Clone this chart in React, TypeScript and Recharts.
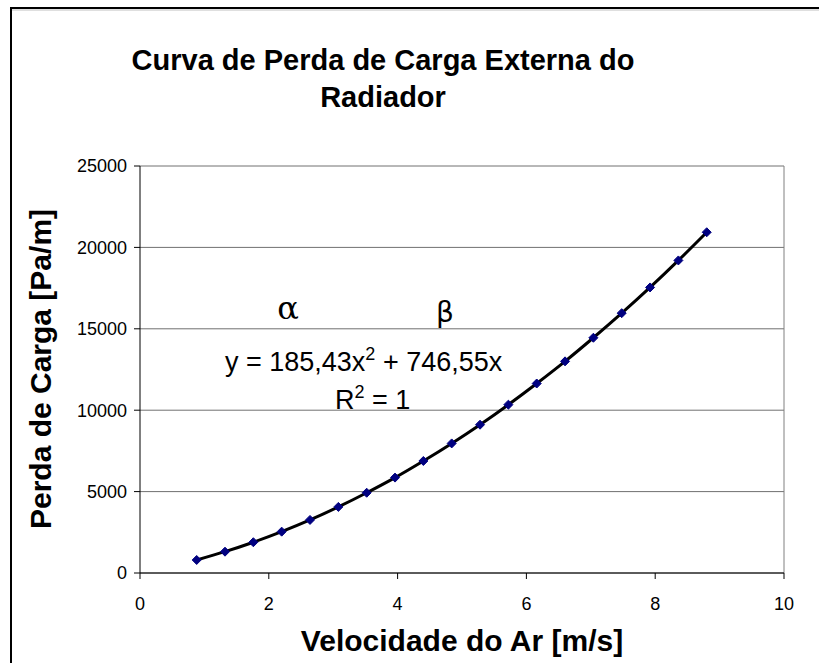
import { ComposedChart, Line, XAxis, YAxis, CartesianGrid, ReferenceLine } from "recharts";

// Velocidade do ar [m/s] e perda de carga [Pa/m]
const velocidade = [
  0.88, 1.32, 1.76, 2.2, 2.64, 3.08, 3.52, 3.96, 4.4, 4.84,
  5.28, 5.72, 6.16, 6.6, 7.04, 7.48, 7.92, 8.36, 8.8,
];
const perdaCarga = [
  800, 1310, 1890, 2540, 3260, 4060, 4930, 5860, 6880, 7960,
  9110, 10340, 11640, 13000, 14450, 15960, 17540, 19200, 20930,
];
const xTicks = [0, 2, 4, 6, 8, 10];
const yTicks = [0, 5000, 10000, 15000, 20000, 25000];

const FONT = "'Liberation Sans', Arial, sans-serif";

const data = velocidade.map((v, i) => ({ v, p: perdaCarga[i] }));

const Diamond = (props: any) => {
  const { cx, cy } = props;
  if (cx == null || cy == null) return null;
  const r = 4.5;
  return (
    <polygon
      points={`${cx},${cy - r} ${cx + r},${cy} ${cx},${cy + r} ${cx - r},${cy}`}
      fill="#000080"
      stroke="#000080"
    />
  );
};

export default function App() {
  return (
    <div style={{ position: "absolute", left: 0, top: 0, width: 819, height: 663, overflow: "hidden", background: "#fff" }}>
      <ComposedChart
        width={819}
        height={663}
        data={data}
        margin={{ top: 166, right: 35, bottom: 0, left: 0 }}
      >
        <CartesianGrid vertical={false} stroke="#707070" strokeWidth={1} />
        <XAxis
          type="number"
          dataKey="v"
          domain={[0, 10]}
          ticks={xTicks}
          height={90}
          stroke="#000"
          tickSize={6}
          tickMargin={18}
          tick={{ fill: "#000", fontSize: 18, fontFamily: FONT }}
        />
        <YAxis
          type="number"
          domain={[0, 25000]}
          ticks={yTicks}
          width={140}
          stroke="#000"
          tickSize={6}
          tickMargin={7}
          tick={{ fill: "#000", fontSize: 18, fontFamily: FONT }}
        />
        <ReferenceLine x={10} stroke="#808080" />
        <Line
          dataKey="p"
          stroke="none"
          dot={<Diamond />}
          activeDot={false}
          isAnimationActive={false}
        />
        <Line
          type="monotone"
          dataKey="p"
          stroke="#000"
          strokeWidth={3}
          dot={false}
          activeDot={false}
          isAnimationActive={false}
        />
      </ComposedChart>
      <svg
        width={819}
        height={663}
        style={{ position: "absolute", left: 0, top: 0, pointerEvents: "none" }}
      >
        <line x1={11} y1={8} x2={819} y2={8} stroke="#000" strokeWidth={2} />
        <line x1={12} y1={10} x2={819} y2={10} stroke="#c0c0c0" strokeWidth={1} />
        <line x1={11} y1={7} x2={11} y2={663} stroke="#000" strokeWidth={2} />
        <g fontFamily={FONT} fill="#000">
          <text x={383} y={70} textAnchor="middle" fontSize={29} fontWeight="bold">
            Curva de Perda de Carga Externa do
          </text>
          <text x={383} y={107} textAnchor="middle" fontSize={29} fontWeight="bold">
            Radiador
          </text>
          <text
            x={40}
            y={369}
            textAnchor="middle"
            fontSize={30}
            fontWeight="bold"
            dominantBaseline="central"
            transform="rotate(-90, 40, 369)"
          >
            Perda de Carga [Pa/m]
          </text>
          <text x={462} y={651} textAnchor="middle" fontSize={30} fontWeight="bold">
            Velocidade do Ar [m/s]
          </text>
          <text x={288} y={319} textAnchor="middle" fontSize={32} fontFamily="'DejaVu Serif', serif">
            α
          </text>
          <text x={445} y={322} textAnchor="middle" fontSize={28} fontFamily="'DejaVu Sans', sans-serif">
            β
          </text>
          <text x={225} y={371} fontSize={27}>
            y = 185,43x<tspan dy={-11} fontSize={18}>2</tspan>
            <tspan dy={11}> + 746,55x</tspan>
          </text>
          <text x={335} y={409} fontSize={27}>
            R<tspan dy={-11} fontSize={18}>2</tspan>
            <tspan dy={11}> = 1</tspan>
          </text>
        </g>
      </svg>
    </div>
  );
}
